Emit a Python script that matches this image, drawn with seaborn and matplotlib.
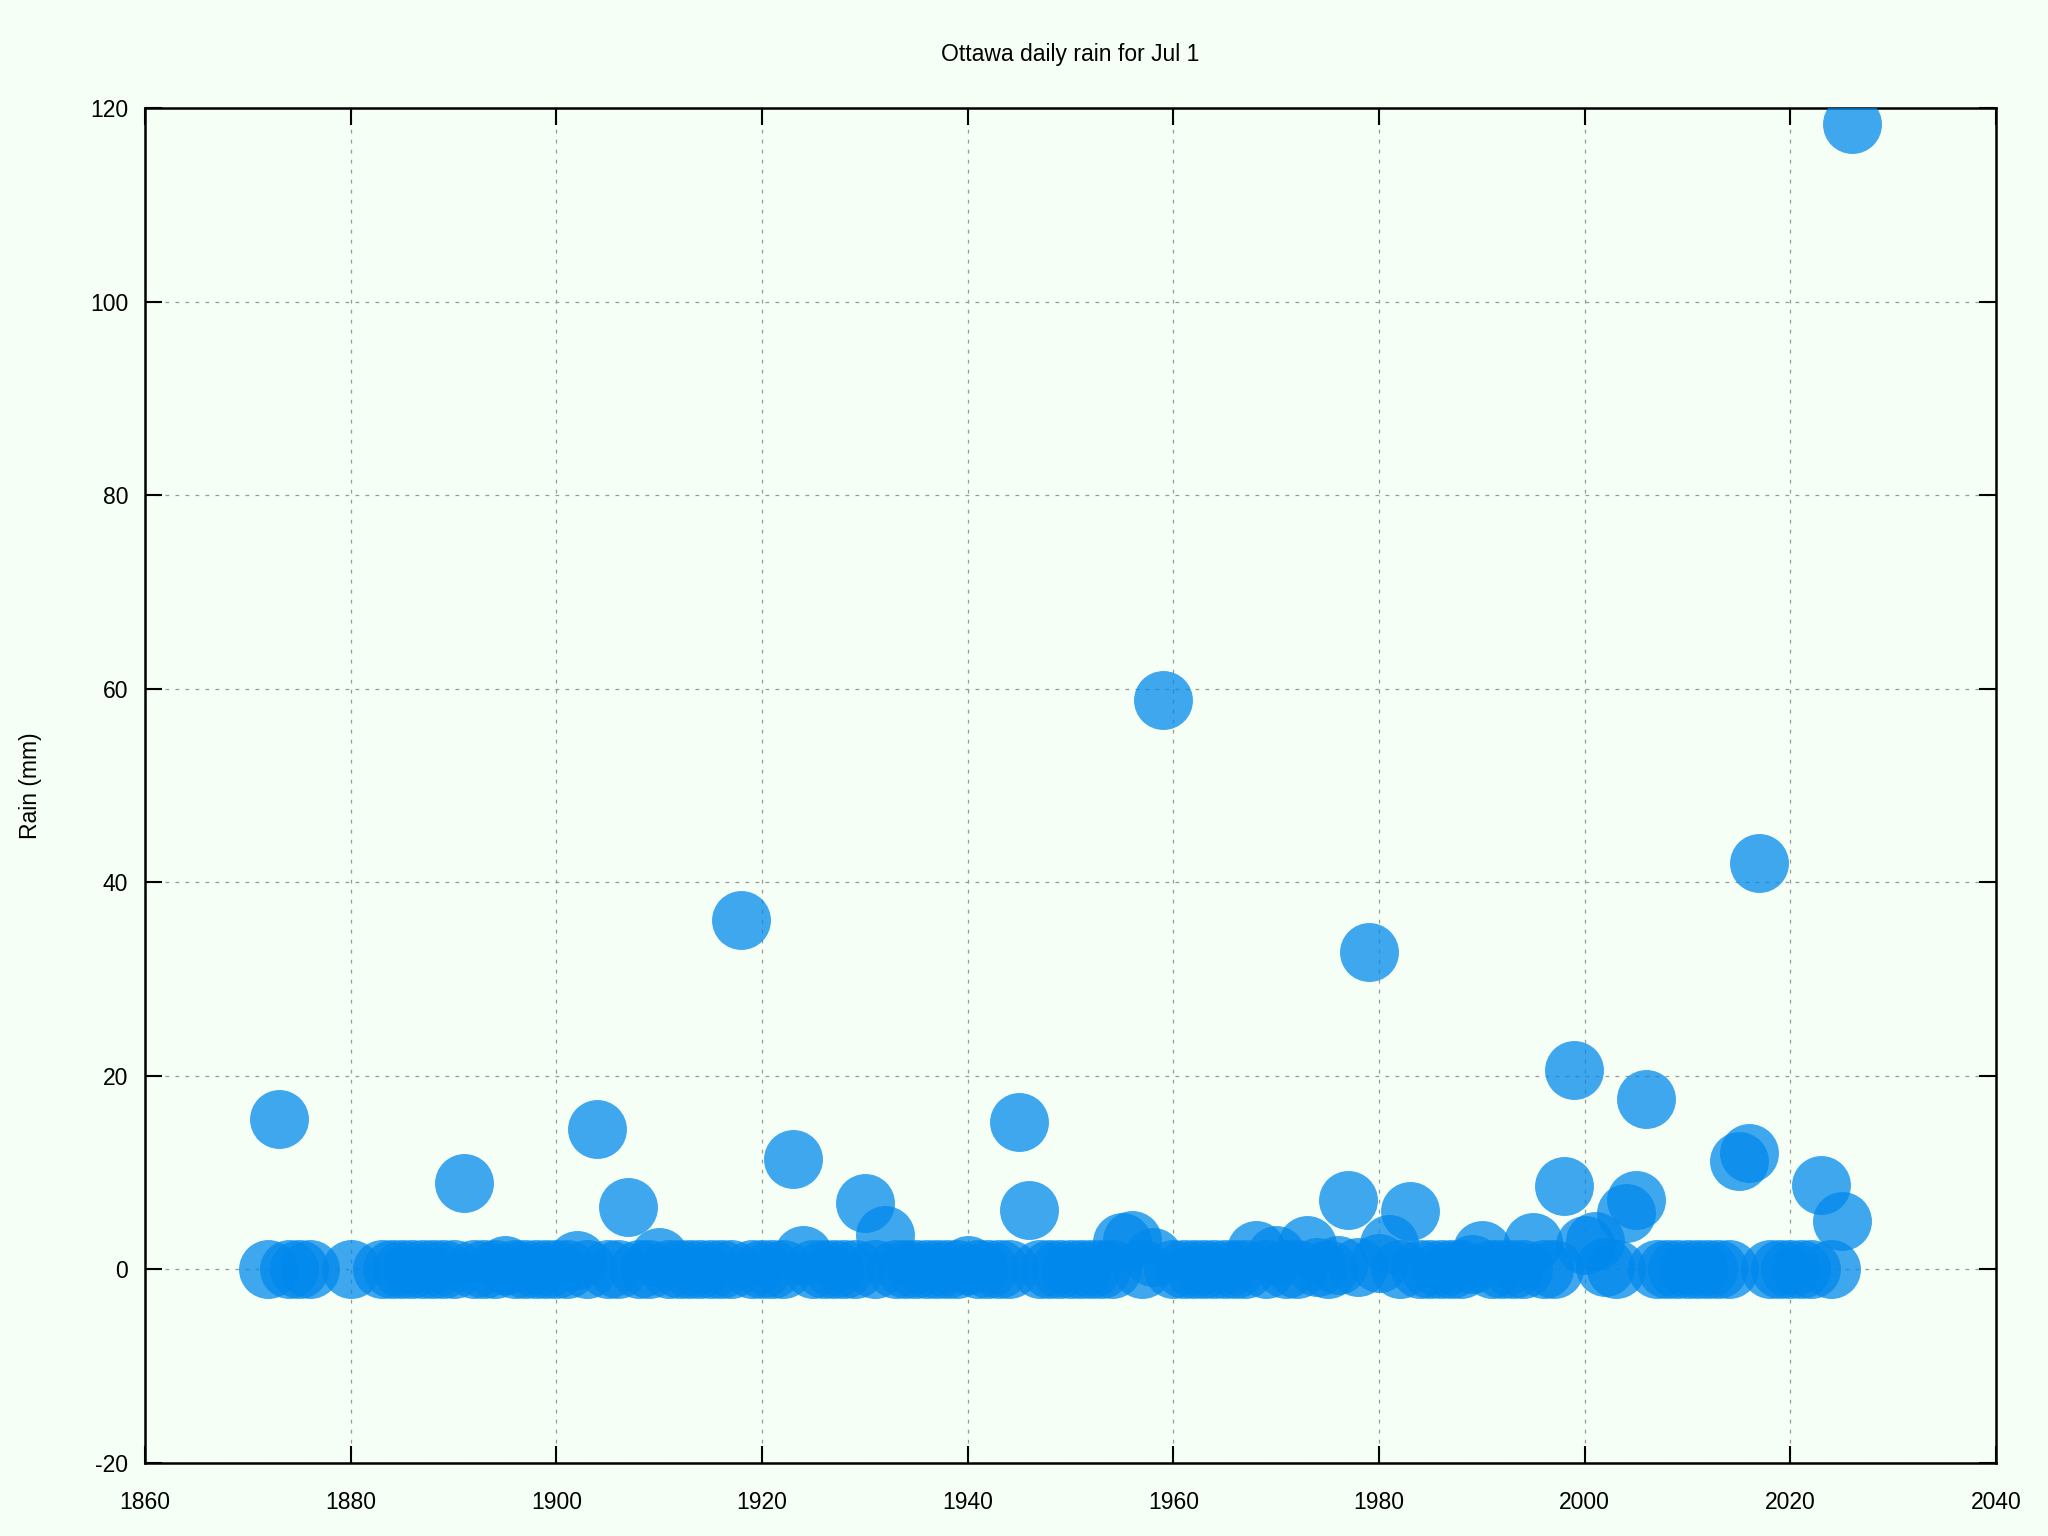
import pandas as pd
import matplotlib.pyplot as plt
import seaborn as sns

# Values
years = [1872, 1873, 1874, 1875, 1876, 1880, 1883, 1884, 1885, 1886,
         1887, 1888, 1889, 1890, 1891, 1892, 1893, 1894, 1895, 1896,
         1897, 1898, 1899, 1900, 1901, 1902, 1903, 1904, 1905, 1906,
         1907, 1908, 1909, 1910, 1911, 1912, 1913, 1914, 1915, 1916,
         1917, 1918, 1919, 1920, 1921, 1922, 1923, 1924, 1925, 1926,
         1927, 1928, 1929, 1930, 1931, 1932, 1933, 1934, 1935, 1936,
         1937, 1938, 1939, 1940, 1941, 1942, 1943, 1944, 1945, 1946,
         1947, 1948, 1949, 1950, 1951, 1952, 1953, 1954, 1955, 1956,
         1957, 1958, 1959, 1960, 1961, 1962, 1963, 1964, 1965, 1966,
         1967, 1968, 1969, 1970, 1971, 1972, 1973, 1974, 1975, 1976,
         1977, 1978, 1979, 1980, 1981, 1982, 1983, 1984, 1985, 1986,
         1987, 1988, 1989, 1990, 1991, 1992, 1993, 1994, 1995, 1996,
         1997, 1998, 1999, 2000, 2001, 2002, 2003, 2004, 2005, 2006,
         2007, 2008, 2009, 2010, 2011, 2012, 2013, 2014, 2015, 2016,
         2017, 2018, 2019, 2020, 2021, 2022, 2023, 2024, 2025, 2026]
rain = [0, 15.5, 0, 0, 0, 0, 0, 0, 0, 0,
        0, 0, 0, 0, 8.9, 0, 0, 0, 0.5, 0,
        0, 0, 0, 0, 0, 1.0, 0, 14.5, 0, 0,
        6.4, 0, 0, 1.3, 0, 0, 0, 0, 0, 0,
        0, 36.1, 0, 0, 0, 0, 11.4, 1.5, 0, 0,
        0, 0, 0, 6.9, 0, 3.6, 0, 0, 0, 0,
        0, 0, 0, 0.5, 0, 0, 0, 0, 15.2, 6.1,
        0, 0, 0, 0, 0, 0, 0, 0, 2.8, 3.0,
        0, 1.3, 58.8, 0, 0, 0, 0, 0, 0, 0,
        0, 2.0, 0, 1.5, 0, 0, 2.5, 0.3, 0, 0.5,
        7.2, 0.3, 32.8, 0.7, 2.6, 0, 6.0, 0, 0, 0,
        0, 0, 0.6, 2.0, 0, 0, 0, 0, 2.8, 0,
        0, 8.6, 20.6, 2.5, 2.9, 0.3, 0, 5.8, 7.2, 17.6,
        0, 0, 0, 0, 0, 0, 0, 0, 11.2, 12.0,
        42.0, 0, 0, 0, 0, 0, 8.7, 0, 5.0, 118.3]

x_ticks = [1860, 1880, 1900, 1920, 1940, 1960, 1980, 2000, 2020, 2040]
y_ticks = [-20, 0, 20, 40, 60, 80, 100, 120]

df = pd.DataFrame({"year": years, "rain": rain})

sns.set_style("ticks")
plt.rcParams['font.family'] = ['Liberation Sans', 'DejaVu Sans']
plt.rcParams['axes.unicode_minus'] = False
plt.rcParams['text.color'] = 'black'
plt.rcParams['axes.labelcolor'] = 'black'

bg = "#F5FFF5"
fig = plt.figure(figsize=(20.48, 15.36), dpi=100, facecolor=bg)
ax = fig.add_axes([145 / 2048, 1 - 1463 / 1536, 1851 / 2048, 1355 / 1536])
ax.set_facecolor(bg)

ax.grid(True, color="#999999", linestyle=(0, (3, 5)), linewidth=0.9)
ax.set_axisbelow(True)

sns.scatterplot(data=df, x="year", y="rain", ax=ax, s=1800, color="#0088EC",
                alpha=0.74, linewidth=0, legend=False, zorder=3)

ax.set_xlim(1860, 2040)
ax.set_ylim(-20, 120)
ax.set_xticks(x_ticks)
ax.set_yticks(y_ticks)
ax.tick_params(direction="in", length=12, width=1.5, labelsize=16.5,
               top=True, right=True, colors="black")
ax.tick_params(axis="x", pad=20)
ax.tick_params(axis="y", pad=12)
for sp in ax.spines.values():
    sp.set_linewidth(1.8)
    sp.set_color("black")

ax.set_xlabel("")
ax.set_ylabel("Rain (mm)", fontsize=16.5)
ax.yaxis.set_label_coords(-103 / 1851, 0.5)

fig.text((145 + 1996) / 2 / 2048, 1 - 55 / 1536, "Ottawa daily rain for Jul 1",
         ha="center", va="center", fontsize=16.5)

fig.savefig("out.png", dpi=100, facecolor=bg)
